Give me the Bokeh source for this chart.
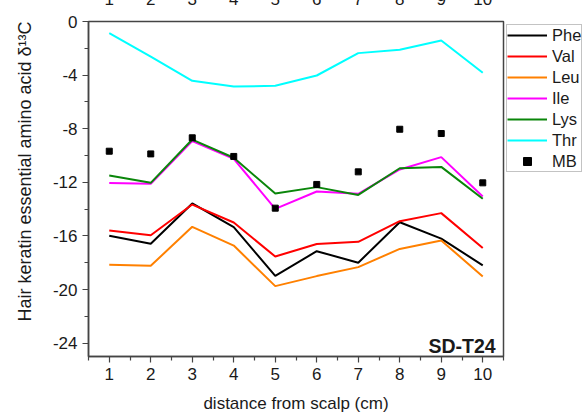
from bokeh.plotting import figure
from bokeh.models import (FixedTicker, Legend, LegendItem, Label, LinearAxis)
from bokeh.embed import file_html
from bokeh.resources import INLINE

# distance from scalp (cm)
distance = [1, 2, 3, 4, 5, 6, 7, 8, 9, 10]

# essential amino acid delta13C values (per mil)
phe = [-15.99, -16.59, -13.58, -15.35, -18.98, -17.14, -18.0, -14.98, -16.2, -18.2]
val = [-15.6, -15.95, -13.66, -15.0, -17.54, -16.6, -16.44, -14.9, -14.3, -16.9]
leu = [-18.16, -18.23, -15.32, -16.72, -19.75, -19.0, -18.33, -16.97, -16.34, -19.03]
ile = [-12.06, -12.11, -8.93, -10.25, -13.98, -12.69, -12.86, -11.04, -10.12, -13.06]
lys = [-11.49, -12.04, -8.81, -10.17, -12.84, -12.36, -12.94, -10.95, -10.85, -13.23]
thr = [-0.87, -2.62, -4.43, -4.85, -4.8, -4.03, -2.36, -2.11, -1.42, -3.83]
mb = [-9.68, -9.88, -8.68, -10.07, -13.93, -12.16, -11.22, -8.04, -8.36, -12.04]

series_names = ["Phe", "Val", "Leu", "Ile", "Lys", "Thr"]
series_values = [phe, val, leu, ile, lys, thr]
series_colors = ["#000000", "#ff0000", "#ff8000", "#ff00ff", "#0a860a", "#00ffff"]

x_ticks = [1, 2, 3, 4, 5, 6, 7, 8, 9, 10]
y_ticks = [0, -4, -8, -12, -16, -20, -24]
sample_name = "SD-T24"

FONT = "Liberation Sans"
TEXT = "#1a1a1a"
AXIS = "#444444"
TOP_CUT = 12  # rows of the top border hidden above the page edge

p = figure(frame_width=415, frame_height=335, output_backend="svg",
           toolbar_location=None,
           x_range=(0.5, 10.5), y_range=(-25, 0),
           min_border_left=88, min_border_right=0,
           min_border_top=21 + TOP_CUT, min_border_bottom=61,
           margin=(-TOP_CUT, 0, 0, 0))
p.background_fill_color = "white"
p.border_fill_color = "white"
p.grid.visible = False
p.outline_line_color = AXIS
p.outline_line_width = 1.5

renderers = []
for name, vals, col in zip(series_names, series_values, series_colors):
    r = p.line(distance, vals, line_color=col, line_width=2)
    renderers.append((name, r))
r_mb = p.scatter(distance, mb, marker="square", size=6, fill_color="black",
                 line_color="black")
renderers.append(("MB", r_mb))

# axes
p.xaxis.ticker = FixedTicker(ticks=x_ticks,
                             minor_ticks=[x + 0.5 for x in range(0, 11)])
p.yaxis.ticker = FixedTicker(ticks=y_ticks,
                             minor_ticks=[-2, -6, -10, -14, -18, -22])
p.yaxis.major_label_overrides = {t: str(t) for t in y_ticks}
for ax in (p.xaxis[0], p.yaxis[0]):
    ax.axis_line_color = AXIS
    ax.axis_line_width = 1.5
    ax.major_tick_line_color = AXIS
    ax.minor_tick_line_color = AXIS
    ax.major_tick_line_width = 1.2
    ax.minor_tick_line_width = 1.2
    ax.major_tick_out = 6
    ax.major_tick_in = 0
    ax.minor_tick_out = 4
    ax.minor_tick_in = 0
    ax.major_label_text_font = FONT
    ax.major_label_text_font_size = "17px"
    ax.major_label_text_color = TEXT
    ax.axis_label_text_font = FONT
    ax.axis_label_text_font_size = "17px"
    ax.axis_label_text_font_style = "normal"
    ax.axis_label_text_color = TEXT

p.xaxis.axis_label = "distance from scalp (cm)"
p.xaxis.major_label_standoff = 5
p.xaxis.axis_label_standoff = 11
# leading no-break spaces lift the rotated title above the frame centre
p.yaxis.axis_label = "\u00a0" * 7 + "Hair keratin essential amino acid δ¹³C"
p.yaxis.axis_label_text_font_size = "18px"
p.yaxis.major_label_standoff = 5
p.yaxis.axis_label_standoff = 15

# tick labels of the panel above, mostly hidden by the page edge
top_axis = LinearAxis(ticker=FixedTicker(ticks=x_ticks))
top_axis.axis_line_color = None
top_axis.major_tick_line_color = None
top_axis.minor_tick_line_color = None
top_axis.major_label_standoff = 11
top_axis.major_label_text_font = FONT
top_axis.major_label_text_font_size = "17px"
top_axis.major_label_text_color = TEXT
p.add_layout(top_axis, "above")

# sample tag in the lower right corner
p.add_layout(Label(x=10.31, y=-24.18, text=sample_name, text_align="right",
                   text_baseline="alphabetic", text_font=FONT,
                   text_font_size="19.5px", text_font_style="bold",
                   text_color=TEXT))

legend = Legend(items=[LegendItem(label=n, renderers=[r]) for n, r in renderers],
                location="top_left")
legend.margin = 3
legend.padding = 0
legend.spacing = 1
legend.glyph_width = 40
legend.glyph_height = 20
legend.label_height = 20
legend.label_standoff = 5
legend.label_text_font = FONT
legend.label_text_font_size = "16.5px"
legend.label_text_color = TEXT
legend.border_line_color = "#888888"
legend.border_line_width = 1.2
legend.background_fill_alpha = 1
p.add_layout(legend, "right")

open("out.html", "w").write(file_html(p, INLINE))
